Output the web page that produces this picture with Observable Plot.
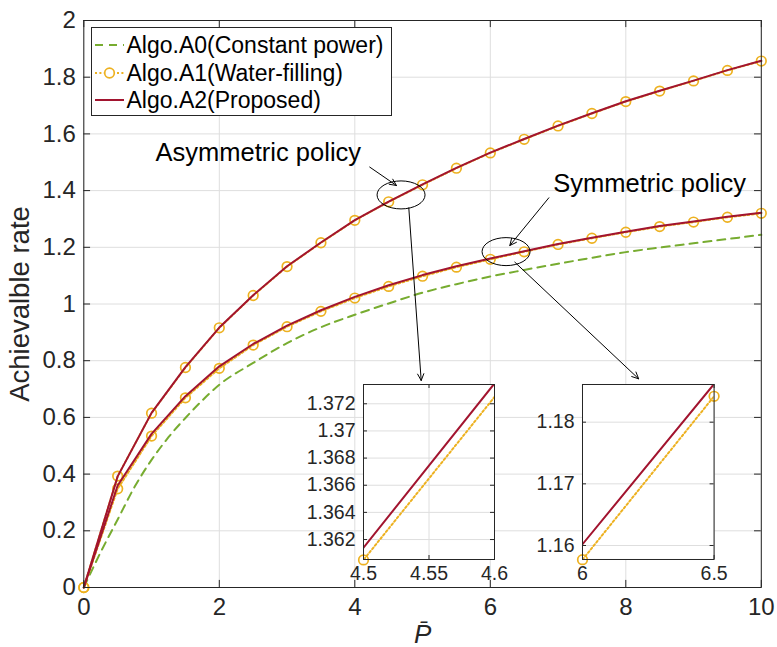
<!DOCTYPE html>
<html><head><meta charset="utf-8">
<script src="https://cdn.jsdelivr.net/npm/d3@7"></script>
<script src="https://cdn.jsdelivr.net/npm/@observablehq/plot@0.6"></script>
<style>
body{margin:0;background:#fff;}
#wrap{position:relative;width:777px;height:647px;font-family:"Liberation Sans",Arial,sans-serif;}
#wrap > *{position:absolute;}
</style></head><body><div id="wrap"></div>
<script>
// ---- data ----
const P = [0,0.5,1,1.5,2,2.5,3,3.5,4,4.5,5,5.5,6,6.5,7,7.5,8,8.5,9,9.5,10];
const a1Asym = [0,0.393,0.615,0.776,0.916,1.030,1.132,1.216,1.295,1.3605,1.4205,1.479,1.533,1.581,1.628,1.672,1.714,1.751,1.787,1.824,1.857];
const a2Asym = [0,0.392,0.616,0.777,0.917,1.031,1.133,1.217,1.296,1.3614,1.4219,1.480,1.534,1.582,1.629,1.673,1.715,1.752,1.788,1.825,1.858];
const a1Sym  = [0,0.348,0.534,0.669,0.773,0.855,0.920,0.974,1.021,1.062,1.098,1.130,1.1577,1.1842,1.210,1.232,1.253,1.273,1.289,1.306,1.320];
const a2Sym  = [0,0.360,0.542,0.675,0.780,0.859,0.924,0.978,1.025,1.066,1.102,1.133,1.1602,1.1862,1.212,1.234,1.255,1.275,1.291,1.308,1.322];
const a0P = [0,0.25,0.5,0.75,1,1.25,1.5,1.75,2,2.5,3,3.5,4,4.5,5,5.5,6,6.5,7,7.5,8,8.5,9,9.5,10];
const a0  = [0,0.125,0.24,0.355,0.45,0.53,0.598,0.66,0.715,0.792,0.862,0.918,0.962,1.002,1.04,1.07,1.097,1.12,1.142,1.163,1.183,1.199,1.214,1.229,1.244];

const xTicks = [0,2,4,6,8,10];
const yTicks = [0,0.2,0.4,0.6,0.8,1,1.2,1.4,1.6,1.8,2];
const in1XTicks = [4.5,4.55,4.6];
const in1YTicks = [1.362,1.364,1.366,1.368,1.37,1.372];
const in2XTicks = [6,6.5];
const in2YTicks = [1.16,1.17,1.18];
const in1Domain = {x:[4.5,4.6], y:[1.36053,1.37342]};
const in2Domain = {x:[6,6.5], y:[1.15773,1.18611]};

const xLabel = "P\u0304";
const yLabel = "Achievalble rate";
const legendLabels = ["Algo.A0(Constant power)","Algo.A1(Water-filling)","Algo.A2(Proposed)"];
const noteText = ["Asymmetric policy","Symmetric policy"];
const noteX = [1.06, 6.93], noteY = [1.506, 1.394];
const ellX = [4.69, 6.24], ellY = [1.383, 1.183];
const arrX1 = [4.22, 6.864, 4.797, 6.362], arrY1 = [1.483, 1.3746, 1.339, 1.1475];
const arrX2 = [4.615, 6.288, 4.98, 8.19], arrY2 = [1.418, 1.2063, 0.730, 0.736];

// ---- colors ----
const C_RED = "#A2142F", C_YEL = "#EDB120", C_GRN = "#77AC30", C_AX = "#262626", C_GRID = "#dedede";
const DOT = "2,2.4";

const rows = (xs, ys) => xs.map((x,i)=>({x, y: ys[i]}));
const gA0 = rows(a0P, a0), yAs = rows(P, a1Asym), rAs = rows(P, a2Asym), ySy = rows(P, a1Sym), rSy = rows(P, a2Sym);

const wrap = document.getElementById("wrap");
const W = 777, H = 647, mL = 83.3, mR = 16.2, mT = 20, mB = 60;
const FONT = '"Liberation Sans", Arial, sans-serif';

const main = Plot.plot({
  width: W, height: H, marginLeft: mL, marginRight: mR, marginTop: mT, marginBottom: mB,
  x: {domain: [0,10]}, y: {domain: [0,2]},
  style: {fontFamily: FONT, fontSize: "24px", color: C_AX, background: "transparent", overflow: "visible"},
  marks: [
    Plot.ruleX(xTicks, {x: d=>d, stroke: C_GRID, strokeWidth: 1}),
    Plot.ruleY(yTicks, {y: d=>d, stroke: C_GRID, strokeWidth: 1}),
    Plot.line(gA0, {x:"x", y:"y", stroke: C_GRN, strokeWidth: 2, strokeDasharray: "8,6", curve: "monotone-x"}),
    Plot.line(yAs, {x:"x", y:"y", stroke: C_YEL, strokeWidth: 2, strokeDasharray: DOT}),
    Plot.line(ySy, {x:"x", y:"y", stroke: C_YEL, strokeWidth: 2, strokeDasharray: DOT}),
    Plot.dot(yAs, {x:"x", y:"y", r: 4.8, stroke: C_YEL, strokeWidth: 1.7, fill: "none"}),
    Plot.dot(ySy, {x:"x", y:"y", r: 4.8, stroke: C_YEL, strokeWidth: 1.7, fill: "none"}),
    Plot.line(rAs, {x:"x", y:"y", stroke: C_RED, strokeWidth: 2}),
    Plot.line(rSy, {x:"x", y:"y", stroke: C_RED, strokeWidth: 2}),
    Plot.arrow(arrX1.map((d,i)=>i), {x1: i=>arrX1[i], y1: i=>arrY1[i], x2: i=>arrX2[i], y2: i=>arrY2[i], stroke: "#000", strokeWidth: 1, headLength: 11, headAngle: 50}),
    Plot.text(noteText, {x: (d,i)=>noteX[i], y: (d,i)=>noteY[i], text: d=>d, textAnchor: "start", lineAnchor: "bottom", fontSize: 25.5, fill: "#000"}),
    // inward ticks
    Plot.ruleX(xTicks, {x: d=>d, y1: 0, y2: 0.025, stroke: C_AX}),
    Plot.ruleX(xTicks, {x: d=>d, y1: 2, y2: 1.975, stroke: C_AX}),
    Plot.ruleY(yTicks, {y: d=>d, x1: 0, x2: 0.1, stroke: C_AX}),
    Plot.ruleY(yTicks, {y: d=>d, x1: 10, x2: 9.9, stroke: C_AX}),
    Plot.frame({stroke: C_AX, strokeWidth: 1}),
    Plot.axisX(xTicks, {tickSize: 0, tickPadding: 10, label: null, tickFormat: d=>String(d)}),
    Plot.axisY(yTicks, {tickSize: 0, tickPadding: 8, label: null, tickFormat: d=>String(d)}),
    Plot.axisX([], {label: xLabel, labelAnchor: "center", labelArrow: "none", labelOffset: 55, fontSize: 26, fontStyle: "italic"}),
    Plot.axisY([], {label: yLabel, labelAnchor: "center", labelArrow: "none", labelOffset: 74, fontSize: 27.5})
  ]
});
main.style.left = "0px"; main.style.top = "0px";
wrap.appendChild(main);

// ellipses (annotation) placed via the plot's scales
const sx = main.scale("x"), sy = main.scale("y");
const msvg = d3.select(main);
ellX.forEach((x,i)=>{
  msvg.append("ellipse").attr("cx", sx.apply(x)).attr("cy", sy.apply(ellY[i]))
    .attr("rx", 24).attr("ry", 14).attr("fill","none").attr("stroke","#000").attr("stroke-width",1);
});

// ---- insets ----
function inset(dom, xt, yt, left, top, w, h) {
  const iL = 70, iR = 14, iT = 10, iB = 36;
  const ty = (dom.y[1]-dom.y[0]) * 4 / h, tx = (dom.x[1]-dom.x[0]) * 4 / w;
  const inX = d => d.x >= dom.x[0]-1e-9 && d.x <= dom.x[1]+1e-9;
  const inY = d => d.y >= dom.y[0]-1e-4 && d.y <= dom.y[1]+1e-4;
  const p = Plot.plot({
    width: iL + w + iR, height: iT + h + iB, marginLeft: iL, marginRight: iR, marginTop: iT, marginBottom: iB,
    x: {domain: dom.x}, y: {domain: dom.y},
    style: {fontFamily: FONT, fontSize: "19.5px", color: C_AX, background: "transparent", overflow: "visible"},
    marks: [
      Plot.frame({fill: "white", stroke: "none"}),
      Plot.ruleX(xt, {x: d=>d, stroke: C_GRID}),
      Plot.ruleY(yt, {y: d=>d, stroke: C_GRID}),
      Plot.line(yAs, {x:"x", y:"y", stroke: C_YEL, strokeWidth: 2, strokeDasharray: DOT, clip: true}),
      Plot.line(ySy, {x:"x", y:"y", stroke: C_YEL, strokeWidth: 2, strokeDasharray: DOT, clip: true}),
      Plot.dot(yAs.filter(d=>inX(d) && inY(d)), {x:"x", y:"y", r: 4.8, stroke: C_YEL, strokeWidth: 1.7, fill: "none"}),
      Plot.dot(ySy.filter(d=>inX(d) && inY(d)), {x:"x", y:"y", r: 4.8, stroke: C_YEL, strokeWidth: 1.7, fill: "none"}),
      Plot.line(rAs, {x:"x", y:"y", stroke: C_RED, strokeWidth: 2, clip: true}),
      Plot.line(rSy, {x:"x", y:"y", stroke: C_RED, strokeWidth: 2, clip: true}),
      Plot.ruleX(xt, {x: d=>d, y1: dom.y[0], y2: dom.y[0]+ty, stroke: C_AX}),
      Plot.ruleX(xt, {x: d=>d, y1: dom.y[1], y2: dom.y[1]-ty, stroke: C_AX}),
      Plot.ruleY(yt, {y: d=>d, x1: dom.x[0], x2: dom.x[0]+tx, stroke: C_AX}),
      Plot.ruleY(yt, {y: d=>d, x1: dom.x[1], x2: dom.x[1]-tx, stroke: C_AX}),
      Plot.frame({stroke: C_AX, strokeWidth: 1}),
      Plot.axisX(xt, {tickSize: 0, tickPadding: 7, label: null, tickFormat: d=>String(d)}),
      Plot.axisY(yt, {tickSize: 0, tickPadding: 8, label: null, tickFormat: d=>String(d)})
    ]
  });
  p.style.left = (left - iL) + "px"; p.style.top = (top - iT) + "px";
  wrap.appendChild(p);
}
inset(in1Domain, in1XTicks, in1YTicks, 363, 384, 131, 175);
inset(in2Domain, in2XTicks, in2YTicks, 581.7, 384, 131.6, 175);

// ---- legend ----
const lg = d3.create("svg").attr("width", 302).attr("height", 90)
  .style("left", "91px").style("top", "27px");
lg.append("rect").attr("x",0.5).attr("y",0.5).attr("width",300).attr("height",88)
  .attr("fill","white").attr("stroke",C_AX).attr("stroke-width",1);
const rowY = [18, 46, 73];
const lstyles = [
  {stroke: C_GRN, dash: "8,6", w: 2},
  {stroke: C_YEL, dash: DOT, w: 2},
  {stroke: C_RED, dash: null, w: 2}
];
legendLabels.forEach((t,i)=>{
  const s = lstyles[i];
  const ln = lg.append("line").attr("x1",4).attr("x2",33).attr("y1",rowY[i]).attr("y2",rowY[i])
    .attr("stroke",s.stroke).attr("stroke-width",s.w);
  if (s.dash) ln.attr("stroke-dasharray", s.dash);
  if (i===1) lg.append("circle").attr("cx",18.5).attr("cy",rowY[i]).attr("r",4.8).attr("fill","white").attr("stroke",C_YEL).attr("stroke-width",1.7);
  lg.append("text").attr("x",35.5).attr("y",rowY[i]).attr("dy","0.35em")
    .attr("font-family",FONT).attr("font-size",23).attr("fill","#000").text(t);
});
wrap.appendChild(lg.node());
</script></body></html>
